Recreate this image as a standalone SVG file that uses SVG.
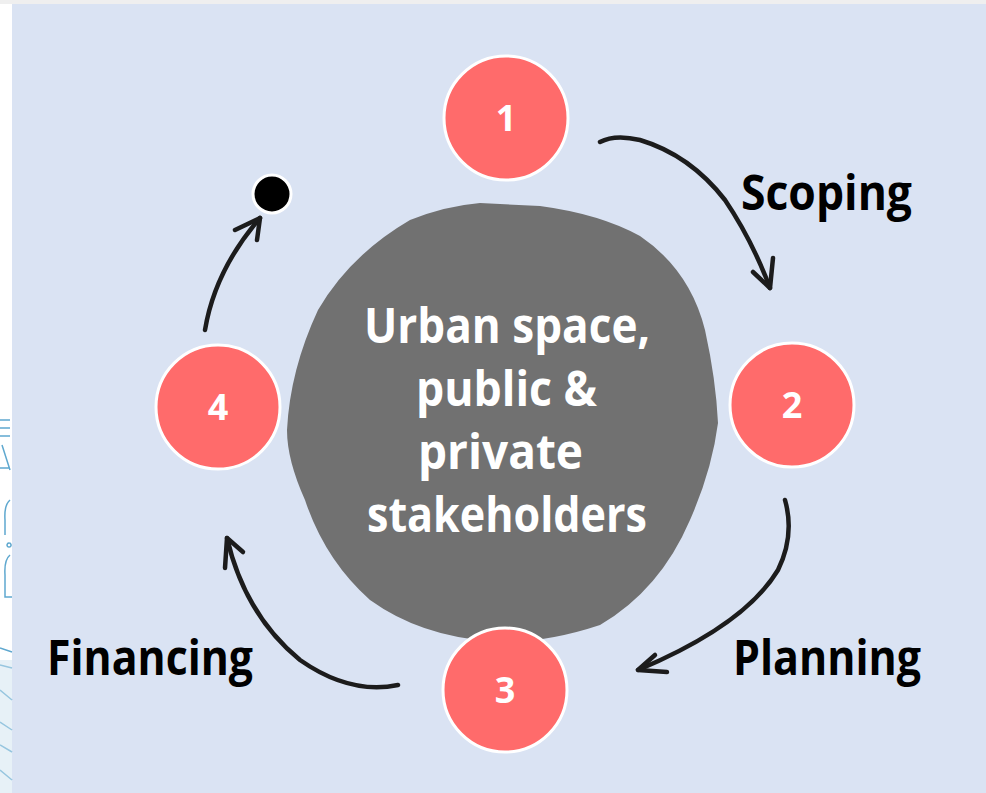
<svg xmlns="http://www.w3.org/2000/svg" width="986" height="793" viewBox="0 0 986 793">
<style>
.bg{fill:#dae3f3}
.step circle{fill:#ff6b6b;stroke:#ffffff;stroke-width:3}
.num{font-family:"Open Sans","Liberation Sans",sans-serif;font-weight:700;font-size:36px;fill:#ffffff;text-anchor:middle}
.lbl{font-family:"Open Sans","Liberation Sans",sans-serif;font-weight:700;font-size:48px;fill:#000000}
.ctr{font-family:"Open Sans","Liberation Sans",sans-serif;font-weight:700;font-size:48px;fill:#ffffff}
.arr{fill:none;stroke:#1c1c1c;stroke-width:4.5;stroke-linecap:round;stroke-linejoin:round}
.deco{fill:none;stroke:#5fa8cf;stroke-width:1.5}
</style>
<rect x="0" y="0" width="986" height="793" fill="#ffffff"/>
<rect x="0" y="0" width="986" height="4" fill="#efefef"/>
<rect class="bg" x="12" y="4" width="974" height="789"/>
<g id="edge-art">
<path class="deco" d="M0 420 L10 420 M0 428 L10 428 M0 436 L10 436 M2 445 L10 470 M0 468 L10 468 M10 500 Q4 505 5 520 L5 535 M9 543 a2 2 0 1 0 0.1 0 M10 555 Q4 560 5 575 L5 597 L12 597 M0 648 L12 652 M0 665 L12 668 M0 690 L12 700 M0 722 L12 730 M0 745 L12 752 M0 770 L12 780"/>
<rect x="0" y="660" width="12" height="133" fill="#cfe3ef" opacity="0.5"/>
</g>
<g id="center">
<path d="M480 203 L540 206 Q600 214 640 236 Q690 270 705 330 Q716 380 718 423 Q712 470 690 520 Q660 590 600 625 Q540 645 490 641 Q420 636 370 600 Q325 560 305 500 Q287 460 287 430 Q290 370 318 310 Q350 255 410 220 Q445 206 480 203 Z" fill="#717171"/>
<text class="ctr" x="364" y="343" textLength="286" lengthAdjust="spacingAndGlyphs">Urban space,</text>
<text class="ctr" x="416" y="406" textLength="181" lengthAdjust="spacingAndGlyphs">public &amp;</text>
<text class="ctr" x="418" y="469" textLength="165" lengthAdjust="spacingAndGlyphs">private</text>
<text class="ctr" x="367" y="532" textLength="280" lengthAdjust="spacingAndGlyphs">stakeholders</text>
</g>
<g id="connectors">
<path class="arr" d="M600 142 Q615 134 640 140 Q690 155 725 200 Q752 240 770 288"/>
<path class="arr" d="M753 272 L770 288 L773 258"/>
<path class="arr" d="M785 500 Q795 535 778 570 Q745 625 638 670"/>
<path class="arr" d="M655 655 L638 670 L667 672"/>
<path class="arr" d="M398 685 Q350 695 300 660 Q245 615 227 538"/>
<path class="arr" d="M225 568 L227 538 L243 552"/>
<path class="arr" d="M205 330 Q215 270 260 218"/>
<path class="arr" d="M235 230 L260 218 L257 240"/>
</g>
<g id="end-dot"><circle cx="272" cy="194" r="19" fill="#000000" stroke="#ffffff" stroke-width="3"/></g>
<g id="step1" class="step"><circle cx="506" cy="118" r="62"/><text class="num" x="506" y="131">1</text></g>
<g id="step2" class="step"><circle cx="792" cy="405" r="62"/><text class="num" x="792" y="418">2</text></g>
<g id="step3" class="step"><circle cx="505" cy="690" r="62"/><text class="num" x="505" y="703">3</text></g>
<g id="step4" class="step"><circle cx="218" cy="407" r="62"/><text class="num" x="218" y="420">4</text></g>
<text class="lbl" x="741" y="210" textLength="171" lengthAdjust="spacingAndGlyphs">Scoping</text>
<text class="lbl" x="733" y="675" textLength="188" lengthAdjust="spacingAndGlyphs">Planning</text>
<text class="lbl" x="47" y="675" textLength="206" lengthAdjust="spacingAndGlyphs">Financing</text>
</svg>
